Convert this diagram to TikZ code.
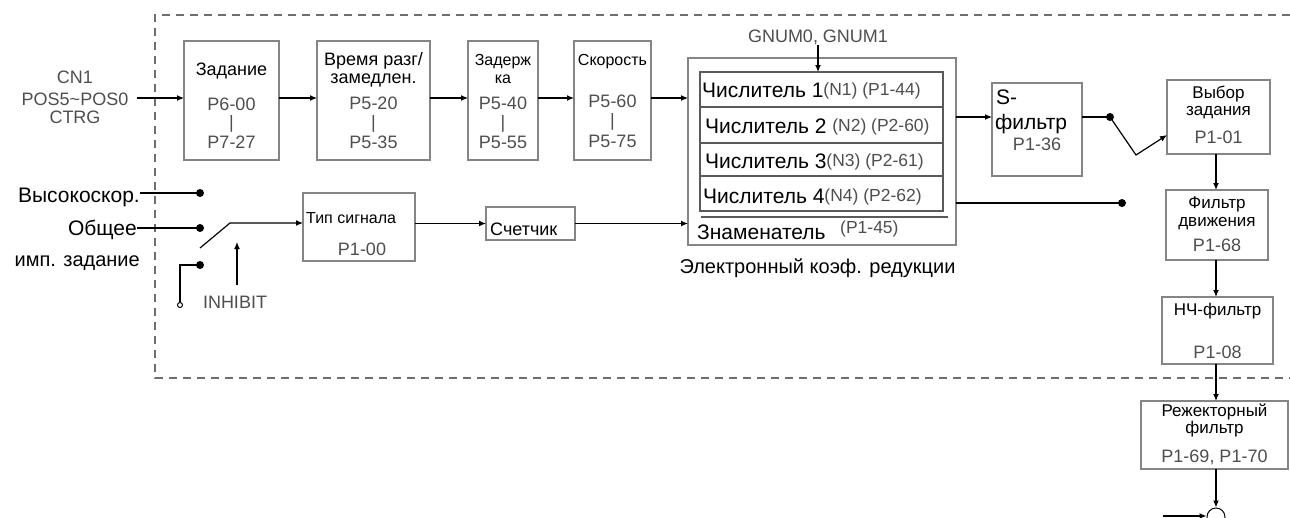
\documentclass[tikz,border=0pt]{standalone}
\usepackage{fontspec}
\setmainfont{Liberation Sans}
\usetikzlibrary{arrows.meta}
\definecolor{bgray}{HTML}{858585}
\definecolor{igray}{HTML}{5A5A5A}
\definecolor{pgray}{HTML}{4E4E4E}
\definecolor{dgray}{HTML}{6E6E6E}
\newcommand\myfs[1]{\fontsize{#1}{#1}\selectfont}
\begin{document}
\begin{tikzpicture}[x=1pt,y=-1pt,
  box/.style={draw=bgray,line width=1.2pt,inner sep=0pt,outer sep=0pt},
  arr/.style={line width=1.2pt,-{Latex[length=7pt,width=6pt]}},
  wire/.style={line width=1.2pt},
  dot/.style={circle,fill=black,inner sep=0pt,minimum size=8pt},
  ptxt/.style={text=pgray,inner sep=0pt,anchor=base},
  ltxt/.style={text=black,inner sep=0pt,anchor=base}]
\useasboundingbox (0,0) rectangle (1290,517);
% dashed frame
\draw[dgray,line width=1.2pt,dash pattern=on 8pt off 6pt] (1290,15) -- (155,15) -- (155,378) -- (1290,378);

% top chain boxes
\node[box,minimum width=95pt,minimum height=119pt] (zad) at (231.5,100.5) {};
\node[box,minimum width=113pt,minimum height=119pt] (vrem) at (373.5,100.5) {};
\node[box,minimum width=70pt,minimum height=119pt] (zader) at (503,100.5) {};
\node[box,minimum width=77pt,minimum height=119pt] (skor) at (612.5,100.5) {};

\node[ltxt,font=\myfs{18}] (tzad) at (231.5,75) {Задание};
\node[ptxt,font=\myfs{18}] (pzad1) at (231.5,110) {P6-00};
\node[ptxt,font=\myfs{18}] (pzad2) at (231.5,128) {|};
\node[ptxt,font=\myfs{18}] (pzad3) at (231.5,148) {P7-27};

\node[ltxt,font=\myfs{18}] (tvr1) at (373.5,65) {Время разг/};
\node[ltxt,font=\myfs{18}] (tvr2) at (373.5,83) {замедлен.};
\node[ptxt,font=\myfs{18}] (pvr1) at (373.5,109) {P5-20};
\node[ptxt,font=\myfs{18}] (pvr2) at (373.5,128) {|};
\node[ptxt,font=\myfs{18}] (pvr3) at (373.5,148) {P5-35};

\node[ltxt,font=\myfs{16}] (tzd1) at (503,65) {Задерж};
\node[ltxt,font=\myfs{16}] (tzd2) at (503,83) {ка};
\node[ptxt,font=\myfs{18}] (pzd1) at (503,109) {P5-40};
\node[ptxt,font=\myfs{18}] (pzd2) at (503,128) {|};
\node[ptxt,font=\myfs{18}] (pzd3) at (503,148) {P5-55};

\node[ltxt,font=\myfs{16}] (tsk) at (612.5,65) {Скорость};
\node[ptxt,font=\myfs{18}] (psk1) at (612.5,107) {P5-60};
\node[ptxt,font=\myfs{18}] (psk2) at (612.5,126) {|};
\node[ptxt,font=\myfs{18}] (psk3) at (612.5,147) {P5-75};

% CN1 input
\node[ptxt,font=\myfs{18}] (cn1) at (75,83) {CN1};
\node[ptxt,font=\myfs{18}] (cn2) at (75,105) {POS5\textasciitilde POS0};
\node[ptxt,font=\myfs{18}] (cn3) at (75,123) {CTRG};
\coordinate (cnA) at (137,98);
\draw[arr] (cnA) -- ([yshift=2.5pt]zad.west);
\draw[arr] ([yshift=2.5pt]zad.east) -- ([yshift=2.5pt]vrem.west);
\draw[arr] ([yshift=2.5pt]vrem.east) -- ([yshift=2.5pt]zader.west);
\draw[arr] ([yshift=2.5pt]zader.east) -- ([yshift=2.5pt]skor.west);

% electronic gear
\node[box,minimum width=268pt,minimum height=187pt] (gear) at (822,151.5) {};
\node[box,draw=igray,minimum width=243pt,minimum height=139pt] (inner) at (821.5,141.5) {};
\draw[igray,line width=1.2pt] (700,107) -- (943,107);
\draw[igray,line width=1.2pt] (700,143) -- (943,143);
\draw[igray,line width=1.2pt] (700,176) -- (943,176);
\draw[igray,line width=1.2pt] (701,217) -- (948,217);
\node[ltxt,anchor=base west,font=\myfs{21}] (n1) at (702,97) {Числитель 1\raisebox{2pt}{\myfs{17.5}\color{pgray}(N1) (P1-44)}};
\node[ltxt,anchor=base west,font=\myfs{21}] (n2) at (705,133) {Числитель 2 \raisebox{2pt}{\myfs{17.5}\color{pgray}(N2) (P2-60)}};
\node[ltxt,anchor=base west,font=\myfs{21}] (n3) at (705,168) {Числитель 3\raisebox{2pt}{\myfs{17.5}\color{pgray}(N3) (P2-61)}};
\node[ltxt,anchor=base west,font=\myfs{21}] (n4) at (703,203) {Числитель 4\raisebox{2pt}{\myfs{17.5}\color{pgray}(N4) (P2-62)}};
\node[ltxt,anchor=base west,font=\myfs{21}] (den) at (697,239) {Знаменатель};
\node[ptxt,anchor=base west,font=\myfs{17.5}] (pden) at (840,233) {(P1-45)};
\node[ptxt,font=\myfs{18}] (gnum) at (818,42) {GNUM0, GNUM1};
\draw[arr] (gnum.south) -- (gnum.south |- inner.north);
\node[ltxt,font=\myfs{20}] (elk) at (817.5,273) {Электронный коэф. редукции};
\coordinate (g1) at ([yshift=2.5pt]skor.east);
\draw[arr] (g1) -- (g1 -| gear.west);

% S-filter
\node[box,minimum width=90pt,minimum height=93pt] (sfil) at (1037,129.5) {};
\node[ltxt,anchor=base west,font=\myfs{21}] (ts1) at (996,104) {S-};
\node[ltxt,anchor=base west,font=\myfs{21}] (ts2) at (995,129) {фильтр};
\node[ptxt,font=\myfs{18}] (ps) at (1037,150) {P1-36};
\coordinate (s1) at ([yshift=12.5pt]sfil.west);
\draw[arr] (s1 -| gear.east) -- (s1);

% right column
\node[box,minimum width=103pt,minimum height=74pt] (vyb) at (1218.5,117) {};
\node[ltxt,font=\myfs{17}] (tv1) at (1218.5,98) {Выбор};
\node[ltxt,font=\myfs{17}] (tv2) at (1218.5,115) {задания};
\node[ptxt,font=\myfs{18}] (pv) at (1218.5,143) {P1-01};

\node[box,minimum width=102pt,minimum height=70pt] (fdv) at (1217,225) {};
\node[ltxt,font=\myfs{17}] (tf1) at (1217,208) {Фильтр};
\node[ltxt,font=\myfs{17}] (tf2) at (1217,226) {движения};
\node[ptxt,font=\myfs{18}] (pf) at (1217,251) {P1-68};

\node[box,minimum width=111pt,minimum height=67pt] (nch) at (1217.5,330.5) {};
\node[ltxt,font=\myfs{17}] (tn1) at (1217.5,315) {НЧ-фильтр};
\node[ptxt,font=\myfs{18}] (pn) at (1217.5,358) {P1-08};

\node[box,fill=white,minimum width=147pt,minimum height=68pt] (rej) at (1214.5,435) {};
\node[ltxt,font=\myfs{17}] (tr1) at (1214.5,416) {Режекторный};
\node[ltxt,font=\myfs{17}] (tr2) at (1214.5,433) {фильтр};
\node[ptxt,font=\myfs{18}] (pr) at (1214.5,462) {P1-69, P1-70};

\node[circle,draw=black,line width=1pt,inner sep=0pt,minimum size=18pt] (sum) at (1216,517) {};

% S-filter output switch
\coordinate (s2) at ([yshift=12.5pt]sfil.east);
\node[dot] (d1) at (1110,117) {};
\coordinate (swb) at (1136,155);
\coordinate (v1) at ([yshift=-18pt]vyb.west);
\draw[wire] (s2) -- (d1.center);
\draw[arr] (d1.center) -- (swb) -- (v1);

\node[dot] (d2) at (1122,203) {};
\draw[wire] (d2.center -| gear.east) -- (d2.center);

\draw[arr] (vyb.south -| sum.center) -- (fdv.north -| sum.center);
\draw[arr] (fdv.south -| sum.center) -- (nch.north -| sum.center);
\draw[arr] (nch.south -| sum.center) -- (rej.north -| sum.center);
\draw[arr] (rej.south -| sum.center) -- (sum.north);
\coordinate (sl) at (1163,516);
\draw[arr] (sl) -- (sl -| sum.west);

% lower-left pulse input
\node[ltxt,anchor=base east,font=\myfs{21}] (hs) at (140,202) {Высокоскор.};
\node[ltxt,anchor=base east,font=\myfs{21}] (ob) at (137,235) {Общее};
\node[ltxt,anchor=base east,font=\myfs{20}] (imp) at (140,266) {имп. задание};
\node[dot] (d3) at (200,193) {};
\node[dot] (d4) at (200,228) {};
\node[dot] (d5) at (200,265) {};
\draw[wire] (d3.center -| hs.east) -- (d3.center);
\draw[wire] (d4.center -| ob.east) -- (d4.center);
\node[circle,draw=black,line width=1pt,inner sep=0pt,minimum size=5pt] (oc) at (180,305) {};
\draw[wire] (d5.center) -- (d5.center -| oc.north) -- (oc.north);

\node[box,minimum width=112pt,minimum height=68pt] (typ) at (359,227) {};
\node[ltxt,anchor=base west,font=\myfs{16}] (tt) at (306,223) {Тип сигнала};
\node[ptxt,font=\myfs{18}] (pt) at (362,255) {P1-00};
\node[box,minimum width=89pt,minimum height=33pt] (sch) at (530.5,223.5) {};
\node[ltxt,anchor=base west,font=\myfs{18}] (tsch) at (490,235) {Счетчик};

\coordinate (swa) at (200,248);
\coordinate (swc) at (230,223);
\coordinate (t1) at ([yshift=4pt]typ.west);
\draw[arr] (swa) -- (swc) -- (t1);
\node[ptxt,font=\myfs{18}] (inh) at (235,308) {INHIBIT};
\coordinate (ia) at (237,285);
\coordinate (ib) at (237,242);
\draw[arr] (ia) -- (ib);

\draw[arr] (sch.west -| typ.east) -- (sch.west);
\draw[arr] (sch.east) -- (sch.east -| gear.west);
\end{tikzpicture}
\end{document}
